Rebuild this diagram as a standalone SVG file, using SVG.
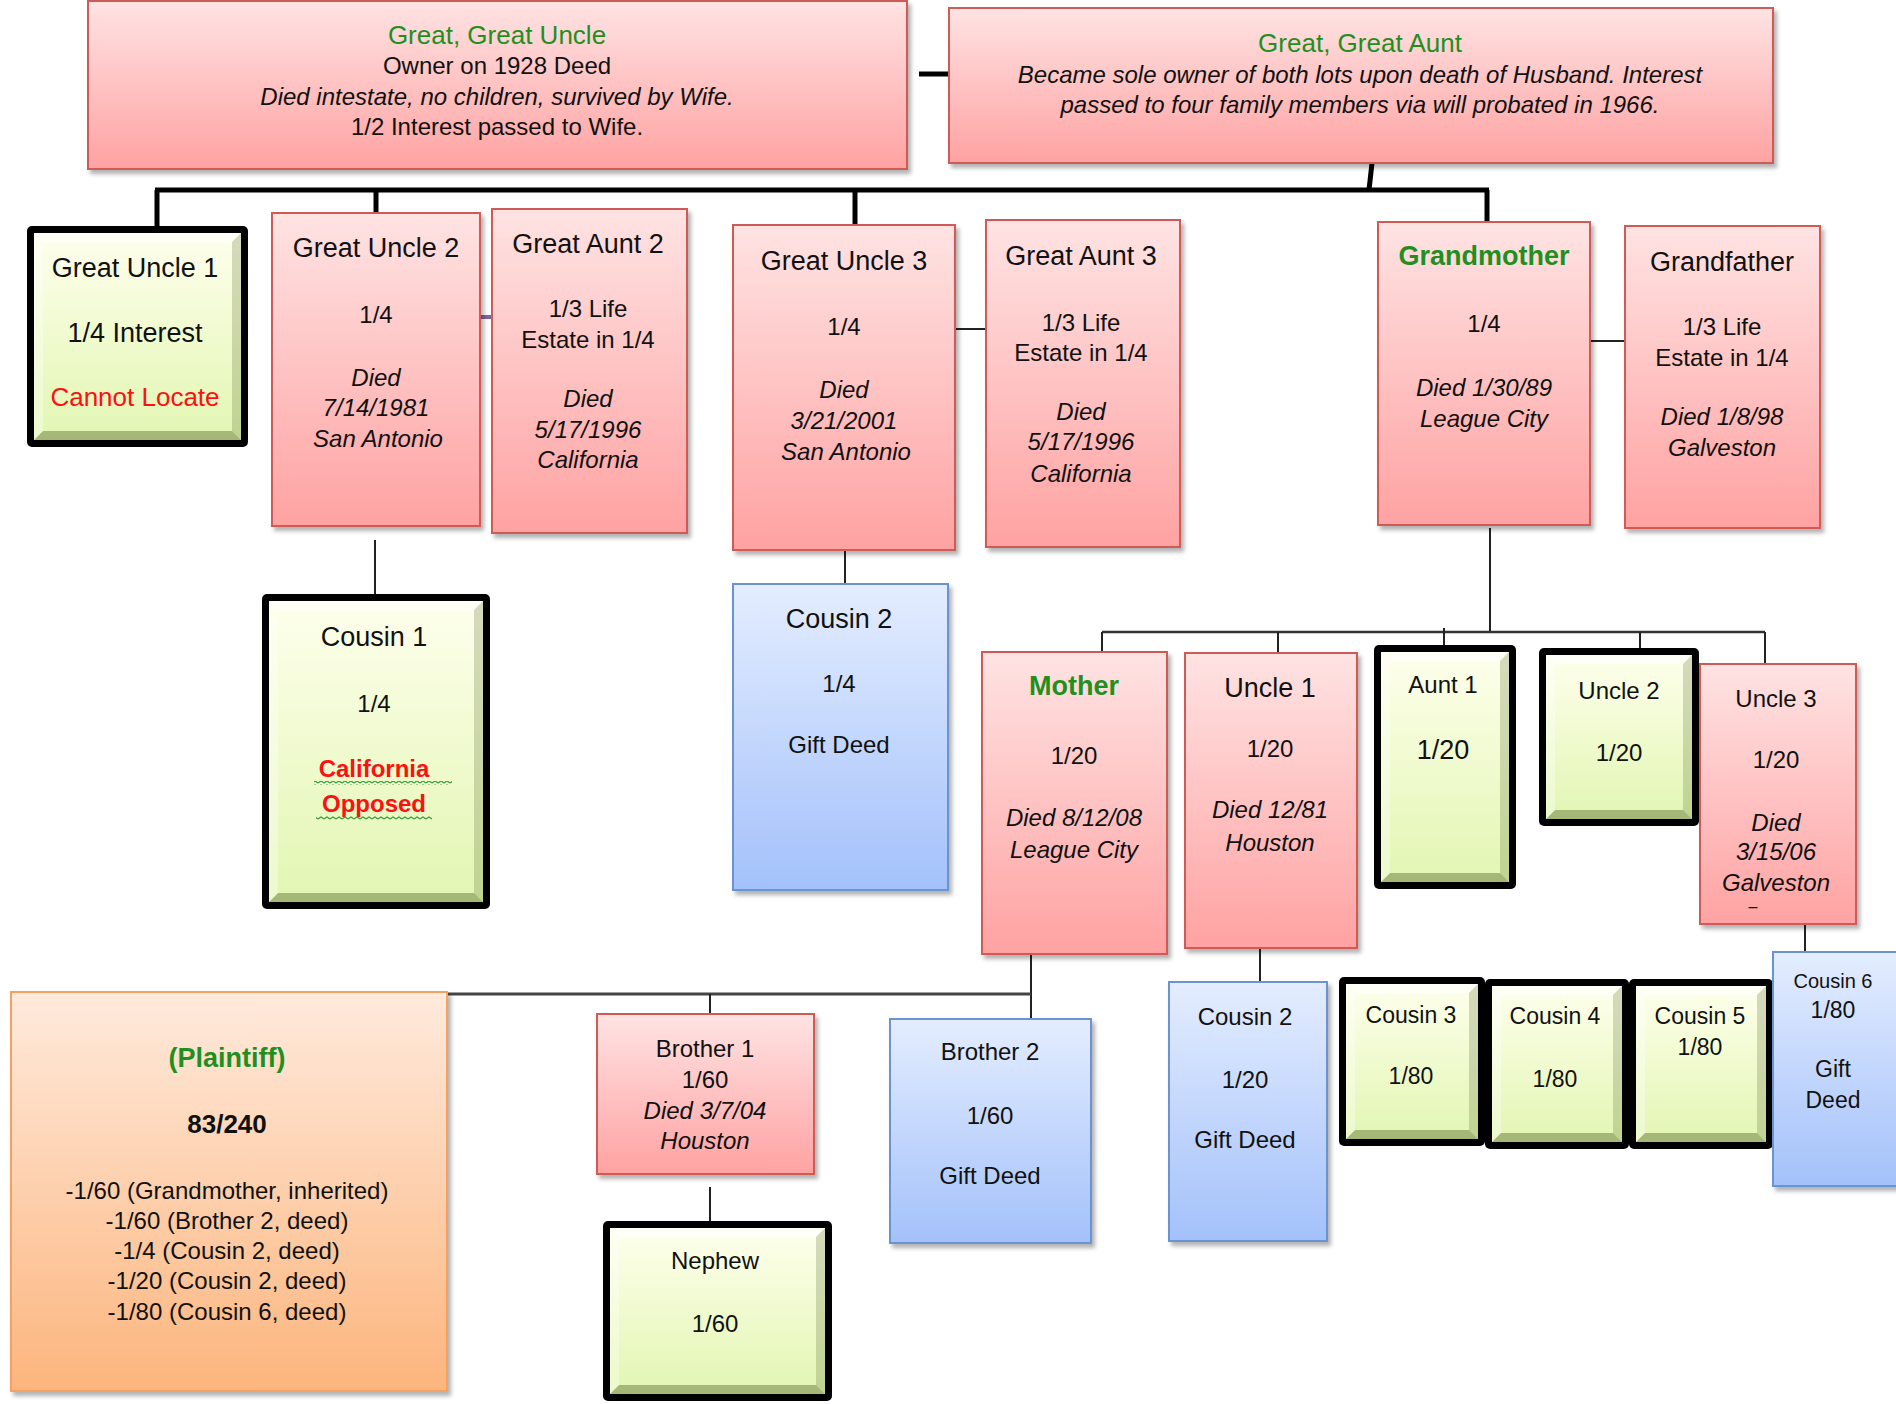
<svg xmlns="http://www.w3.org/2000/svg" width="1896" height="1404" viewBox="0 0 1896 1404">
<defs>
<linearGradient id="gr" x1="0" y1="0" x2="0" y2="1"><stop offset="0" stop-color="#FFE3E3"/><stop offset="1" stop-color="#FFA2A2"/></linearGradient>
<linearGradient id="gb" x1="0" y1="0" x2="0" y2="1"><stop offset="0" stop-color="#E4EDFF"/><stop offset="1" stop-color="#A3C1FA"/></linearGradient>
<linearGradient id="go" x1="0" y1="0" x2="0" y2="1"><stop offset="0" stop-color="#FFEADC"/><stop offset="1" stop-color="#FCB57D"/></linearGradient>
<linearGradient id="gg" x1="0" y1="0" x2="0" y2="1"><stop offset="0" stop-color="#FEFFEC"/><stop offset="1" stop-color="#E2F6B2"/></linearGradient>
<filter id="sh" x="-5%" y="-5%" width="115%" height="115%"><feDropShadow dx="3" dy="4" stdDeviation="2" flood-color="#000" flood-opacity="0.3"/></filter>
<pattern id="wavy" width="6" height="4" patternUnits="userSpaceOnUse"><path d="M0,3 L3,1 L6,3" fill="none" stroke="#3a9a3a" stroke-width="1.2"/></pattern>
</defs>
<style>
.red{fill:url(#gr);stroke:#CF5A57;stroke-width:2;filter:url(#sh)}
.blue{fill:url(#gb);stroke:#6A93D0;stroke-width:2;filter:url(#sh)}
.orange{fill:url(#go);stroke:#F7A060;stroke-width:2;filter:url(#sh)}
.gout{fill:#000}
.gin{fill:url(#gg)}
.bt{fill:#fff;opacity:.6}
.bl{fill:#fff;opacity:.35}
.bb{fill:#5c6b2e;opacity:.45}
.br{fill:#5c6b2e;opacity:.25}
text{font-family:"Liberation Sans",Arial,sans-serif;text-anchor:middle;fill:#111}
.n{font-size:27px}
.b{font-size:24px}
.s{font-size:23px}
.m{font-size:24px}
.i{font-style:italic}
.bold{font-weight:bold}
.grn{fill:#1f8f1f}
.rd{fill:#ff1010}
.thick{stroke:#000;stroke-width:5;fill:none}
.thin{stroke:#222;stroke-width:2;fill:none}
</style>

<g id="connectors">
<line class="thick" x1="919" y1="74" x2="949" y2="74"/>
<line class="thick" x1="1372" y1="163" x2="1369" y2="190"/>
<line class="thick" x1="155" y1="190" x2="1489" y2="190"/>
<line class="thick" x1="157" y1="190" x2="157" y2="226"/>
<line class="thick" x1="376" y1="190" x2="376" y2="213"/>
<line class="thick" x1="855" y1="190" x2="855" y2="225"/>
<line class="thick" x1="1487" y1="190" x2="1487" y2="222"/>
<line x1="480" y1="317" x2="492" y2="317" stroke="#8064A2" stroke-width="4"/>
<line class="thin" x1="375" y1="540" x2="375" y2="594"/>
<line class="thin" x1="955" y1="329" x2="986" y2="329"/>
<line class="thin" x1="845" y1="550" x2="845" y2="584"/>
<line class="thin" x1="1590" y1="341" x2="1625" y2="341"/>
<line class="thin" x1="1490" y1="528" x2="1490" y2="632"/>
<line x1="1102" y1="632" x2="1765" y2="632" stroke="#333" stroke-width="2.5"/>
<line class="thin" x1="1102" y1="632" x2="1102" y2="652"/>
<line class="thin" x1="1278" y1="632" x2="1278" y2="653"/>
<line class="thin" x1="1444" y1="628" x2="1444" y2="652"/>
<line class="thin" x1="1640" y1="632" x2="1640" y2="655"/>
<line class="thin" x1="1765" y1="632" x2="1765" y2="664"/>
<line class="thin" x1="1031" y1="954" x2="1031" y2="1019"/>
<line x1="447" y1="994" x2="1031" y2="994" stroke="#444" stroke-width="3"/>
<line class="thin" x1="710" y1="994" x2="710" y2="1014"/>
<line class="thin" x1="710" y1="1187" x2="710" y2="1221"/>
<line class="thin" x1="1260" y1="948" x2="1260" y2="982"/>
<line class="thin" x1="1805" y1="924" x2="1805" y2="952"/>
</g>

<g id="ggu">
<rect class="red" x="88" y="1" width="819" height="168"/>
<text x="497" y="44" font-size="26" class="grn">Great, Great Uncle</text>
<text x="497" y="74" class="m">Owner on 1928 Deed</text>
<text x="497" y="105" class="m i">Died intestate, no children, survived by Wife.</text>
<text x="497" y="135" class="m">1/2 Interest passed to Wife.</text>
</g>

<g id="gga">
<rect class="red" x="949" y="8" width="824" height="155"/>
<text x="1360" y="52" font-size="26" class="grn">Great, Great Aunt</text>
<text x="1360" y="83" class="m i">Became sole owner of both lots upon death of Husband.  Interest</text>
<text x="1360" y="113" class="m i">passed to four family members via will probated  in 1966.</text>
</g>

<g id="gu1">
<rect class="gout" x="27" y="226" width="221" height="221" rx="5"/>
<rect class="gin" x="34" y="233" width="207" height="207"/>
<polygon class="bt" points="34,233 241,233 232,242 43,242"/>
<polygon class="bb" points="34,440 241,440 232,431 43,431"/>
<polygon class="bl" points="34,233 43,242 43,431 34,440"/>
<polygon class="br" points="241,233 232,242 232,431 241,440"/>
<text x="135" y="277" class="n">Great Uncle 1</text>
<text x="135" y="342" class="n">1/4 Interest</text>
<text x="135" y="406" font-size="26" class="rd">Cannot Locate</text>
</g>

<g id="gu2">
<rect class="red" x="272" y="213" width="208" height="313"/>
<text x="376" y="257" class="n">Great Uncle 2</text>
<text x="376" y="323" class="b">1/4</text>
<text x="376" y="386" class="b i">Died</text>
<text x="376" y="416" class="b i">7/14/1981</text>
<text x="378" y="447" class="b i">San Antonio</text>
</g>

<g id="ga2">
<rect class="red" x="492" y="209" width="195" height="324"/>
<text x="588" y="253" class="n">Great Aunt 2</text>
<text x="588" y="317" class="b">1/3 Life</text>
<text x="588" y="348" class="b">Estate in 1/4</text>
<text x="588" y="407" class="b i">Died</text>
<text x="588" y="438" class="b i">5/17/1996</text>
<text x="588" y="468" class="b i">California</text>
</g>

<g id="cousin1">
<rect class="gout" x="262" y="594" width="228" height="315" rx="5"/>
<rect class="gin" x="269" y="601" width="214" height="301"/>
<polygon class="bt" points="269,601 483,601 474,610 278,610"/>
<polygon class="bb" points="269,902 483,902 474,893 278,893"/>
<polygon class="bl" points="269,601 278,610 278,893 269,902"/>
<polygon class="br" points="483,601 474,610 474,893 483,902"/>
<text x="374" y="646" class="n">Cousin 1</text>
<text x="374" y="712" class="b">1/4</text>
<text x="374" y="777" class="b bold rd">California</text>
<text x="374" y="812" class="b bold rd">Opposed</text>
<rect x="314" y="781" width="138" height="4" fill="url(#wavy)"/>
<rect x="316" y="816" width="116" height="4" fill="url(#wavy)"/>
</g>

<g id="gu3">
<rect class="red" x="733" y="225" width="222" height="325"/>
<text x="844" y="270" class="n">Great Uncle 3</text>
<text x="844" y="335" class="b">1/4</text>
<text x="844" y="398" class="b i">Died</text>
<text x="844" y="429" class="b i">3/21/2001</text>
<text x="846" y="460" class="b i">San Antonio</text>
</g>

<g id="ga3">
<rect class="red" x="986" y="220" width="194" height="327"/>
<text x="1081" y="265" class="n">Great Aunt 3</text>
<text x="1081" y="331" class="b">1/3 Life</text>
<text x="1081" y="361" class="b">Estate in 1/4</text>
<text x="1081" y="420" class="b i">Died</text>
<text x="1081" y="450" class="b i">5/17/1996</text>
<text x="1081" y="482" class="b i">California</text>
</g>

<g id="cousin2a">
<rect class="blue" x="733" y="584" width="215" height="306"/>
<text x="839" y="628" class="n">Cousin 2</text>
<text x="839" y="692" class="b">1/4</text>
<text x="839" y="753" class="b">Gift Deed</text>
</g>

<g id="grandmother">
<rect class="red" x="1378" y="222" width="212" height="303"/>
<text x="1484" y="265" class="n bold grn">Grandmother</text>
<text x="1484" y="332" class="b">1/4</text>
<text x="1484" y="396" class="b i">Died 1/30/89</text>
<text x="1484" y="427" class="b i">League  City</text>
</g>

<g id="grandfather">
<rect class="red" x="1625" y="226" width="195" height="302"/>
<text x="1722" y="271" class="n">Grandfather</text>
<text x="1722" y="335" class="b">1/3 Life</text>
<text x="1722" y="366" class="b">Estate in 1/4</text>
<text x="1722" y="425" class="b i">Died 1/8/98</text>
<text x="1722" y="456" class="b i">Galveston</text>
</g>

<g id="mother">
<rect class="red" x="982" y="652" width="185" height="302"/>
<text x="1074" y="695" class="n bold grn">Mother</text>
<text x="1074" y="764" class="b">1/20</text>
<text x="1074" y="826" class="b i">Died 8/12/08</text>
<text x="1074" y="858" class="b i">League  City</text>
</g>

<g id="uncle1">
<rect class="red" x="1185" y="653" width="172" height="295"/>
<text x="1270" y="697" class="n">Uncle 1</text>
<text x="1270" y="757" class="b">1/20</text>
<text x="1270" y="818" class="b i">Died 12/81</text>
<text x="1270" y="851" class="b i">Houston</text>
</g>

<g id="aunt1">
<rect class="gout" x="1374" y="645" width="142" height="244" rx="5"/>
<rect class="gin" x="1381" y="652" width="128" height="230"/>
<polygon class="bt" points="1381,652 1509,652 1500,661 1390,661"/>
<polygon class="bb" points="1381,882 1509,882 1500,873 1390,873"/>
<polygon class="bl" points="1381,652 1390,661 1390,873 1381,882"/>
<polygon class="br" points="1509,652 1500,661 1500,873 1509,882"/>
<text x="1443" y="693" class="b">Aunt 1</text>
<text x="1443" y="759" class="n">1/20</text>
</g>

<g id="uncle2">
<rect class="gout" x="1539" y="648" width="160" height="178" rx="5"/>
<rect class="gin" x="1546" y="655" width="146" height="164"/>
<polygon class="bt" points="1546,655 1692,655 1683,664 1555,664"/>
<polygon class="bb" points="1546,819 1692,819 1683,810 1555,810"/>
<polygon class="bl" points="1546,655 1555,664 1555,810 1546,819"/>
<polygon class="br" points="1692,655 1683,664 1683,810 1692,819"/>
<text x="1619" y="699" class="b">Uncle 2</text>
<text x="1619" y="761" class="b">1/20</text>
</g>

<g id="uncle3">
<rect class="red" x="1700" y="664" width="156" height="260"/>
<text x="1776" y="707" class="b">Uncle 3</text>
<text x="1776" y="768" class="b">1/20</text>
<text x="1776" y="831" class="b i">Died</text>
<text x="1776" y="860" class="b i">3/15/06</text>
<text x="1776" y="891" class="b i">Galveston</text>
<text x="1753" y="912" font-size="16">–</text>
</g>

<g id="plaintiff">
<rect class="orange" x="11" y="992" width="436" height="399"/>
<text x="227" y="1067" class="n bold grn">(Plaintiff)</text>
<text x="227" y="1133" font-size="26" class="bold">83/240</text>
<text x="227" y="1199" class="m">-1/60 (Grandmother,  inherited)</text>
<text x="227" y="1229" class="m">-1/60 (Brother 2, deed)</text>
<text x="227" y="1259" class="m">-1/4 (Cousin 2, deed)</text>
<text x="227" y="1289" class="m">-1/20 (Cousin 2, deed)</text>
<text x="227" y="1320" class="m">-1/80 (Cousin 6, deed)</text>
</g>

<g id="brother1">
<rect class="red" x="597" y="1014" width="217" height="160"/>
<text x="705" y="1057" class="b">Brother 1</text>
<text x="705" y="1088" class="b">1/60</text>
<text x="705" y="1119" class="b i">Died 3/7/04</text>
<text x="705" y="1149" class="b i">Houston</text>
</g>

<g id="nephew">
<rect class="gout" x="603" y="1221" width="229" height="180" rx="5"/>
<rect class="gin" x="610" y="1228" width="215" height="166"/>
<polygon class="bt" points="610,1228 825,1228 816,1237 619,1237"/>
<polygon class="bb" points="610,1394 825,1394 816,1385 619,1385"/>
<polygon class="bl" points="610,1228 619,1237 619,1385 610,1394"/>
<polygon class="br" points="825,1228 816,1237 816,1385 825,1394"/>
<text x="715" y="1269" class="b">Nephew</text>
<text x="715" y="1332" class="b">1/60</text>
</g>

<g id="brother2">
<rect class="blue" x="890" y="1019" width="201" height="224"/>
<text x="990" y="1060" class="b">Brother 2</text>
<text x="990" y="1124" class="b">1/60</text>
<text x="990" y="1184" class="b">Gift Deed</text>
</g>

<g id="cousin2b">
<rect class="blue" x="1169" y="982" width="158" height="259"/>
<text x="1245" y="1025" class="b">Cousin 2</text>
<text x="1245" y="1088" class="b">1/20</text>
<text x="1245" y="1148" class="b">Gift Deed</text>
</g>

<g id="cousin3">
<rect class="gout" x="1339" y="977" width="146" height="169" rx="5"/>
<rect class="gin" x="1346" y="984" width="132" height="155"/>
<polygon class="bt" points="1346,984 1478,984 1469,993 1355,993"/>
<polygon class="bb" points="1346,1139 1478,1139 1469,1130 1355,1130"/>
<polygon class="bl" points="1346,984 1355,993 1355,1130 1346,1139"/>
<polygon class="br" points="1478,984 1469,993 1469,1130 1478,1139"/>
<text x="1411" y="1023" class="s">Cousin 3</text>
<text x="1411" y="1084" class="s">1/80</text>
</g>

<g id="cousin4">
<rect class="gout" x="1485" y="979" width="144" height="170" rx="5"/>
<rect class="gin" x="1492" y="986" width="130" height="156"/>
<polygon class="bt" points="1492,986 1622,986 1613,995 1501,995"/>
<polygon class="bb" points="1492,1142 1622,1142 1613,1133 1501,1133"/>
<polygon class="bl" points="1492,986 1501,995 1501,1133 1492,1142"/>
<polygon class="br" points="1622,986 1613,995 1613,1133 1622,1142"/>
<text x="1555" y="1024" class="s">Cousin 4</text>
<text x="1555" y="1087" class="s">1/80</text>
</g>

<g id="cousin5">
<rect class="gout" x="1629" y="979" width="144" height="170" rx="5"/>
<rect class="gin" x="1636" y="986" width="130" height="156"/>
<polygon class="bt" points="1636,986 1766,986 1757,995 1645,995"/>
<polygon class="bb" points="1636,1142 1766,1142 1757,1133 1645,1133"/>
<polygon class="bl" points="1636,986 1645,995 1645,1133 1636,1142"/>
<polygon class="br" points="1766,986 1757,995 1757,1133 1766,1142"/>
<text x="1700" y="1024" class="s">Cousin 5</text>
<text x="1700" y="1055" class="s">1/80</text>
</g>

<g id="cousin6">
<rect class="blue" x="1773" y="952" width="130" height="234"/>
<text x="1833" y="988" font-size="20">Cousin 6</text>
<text x="1833" y="1018" class="s">1/80</text>
<text x="1833" y="1077" class="s">Gift</text>
<text x="1833" y="1108" class="s">Deed</text>
</g>
</svg>
